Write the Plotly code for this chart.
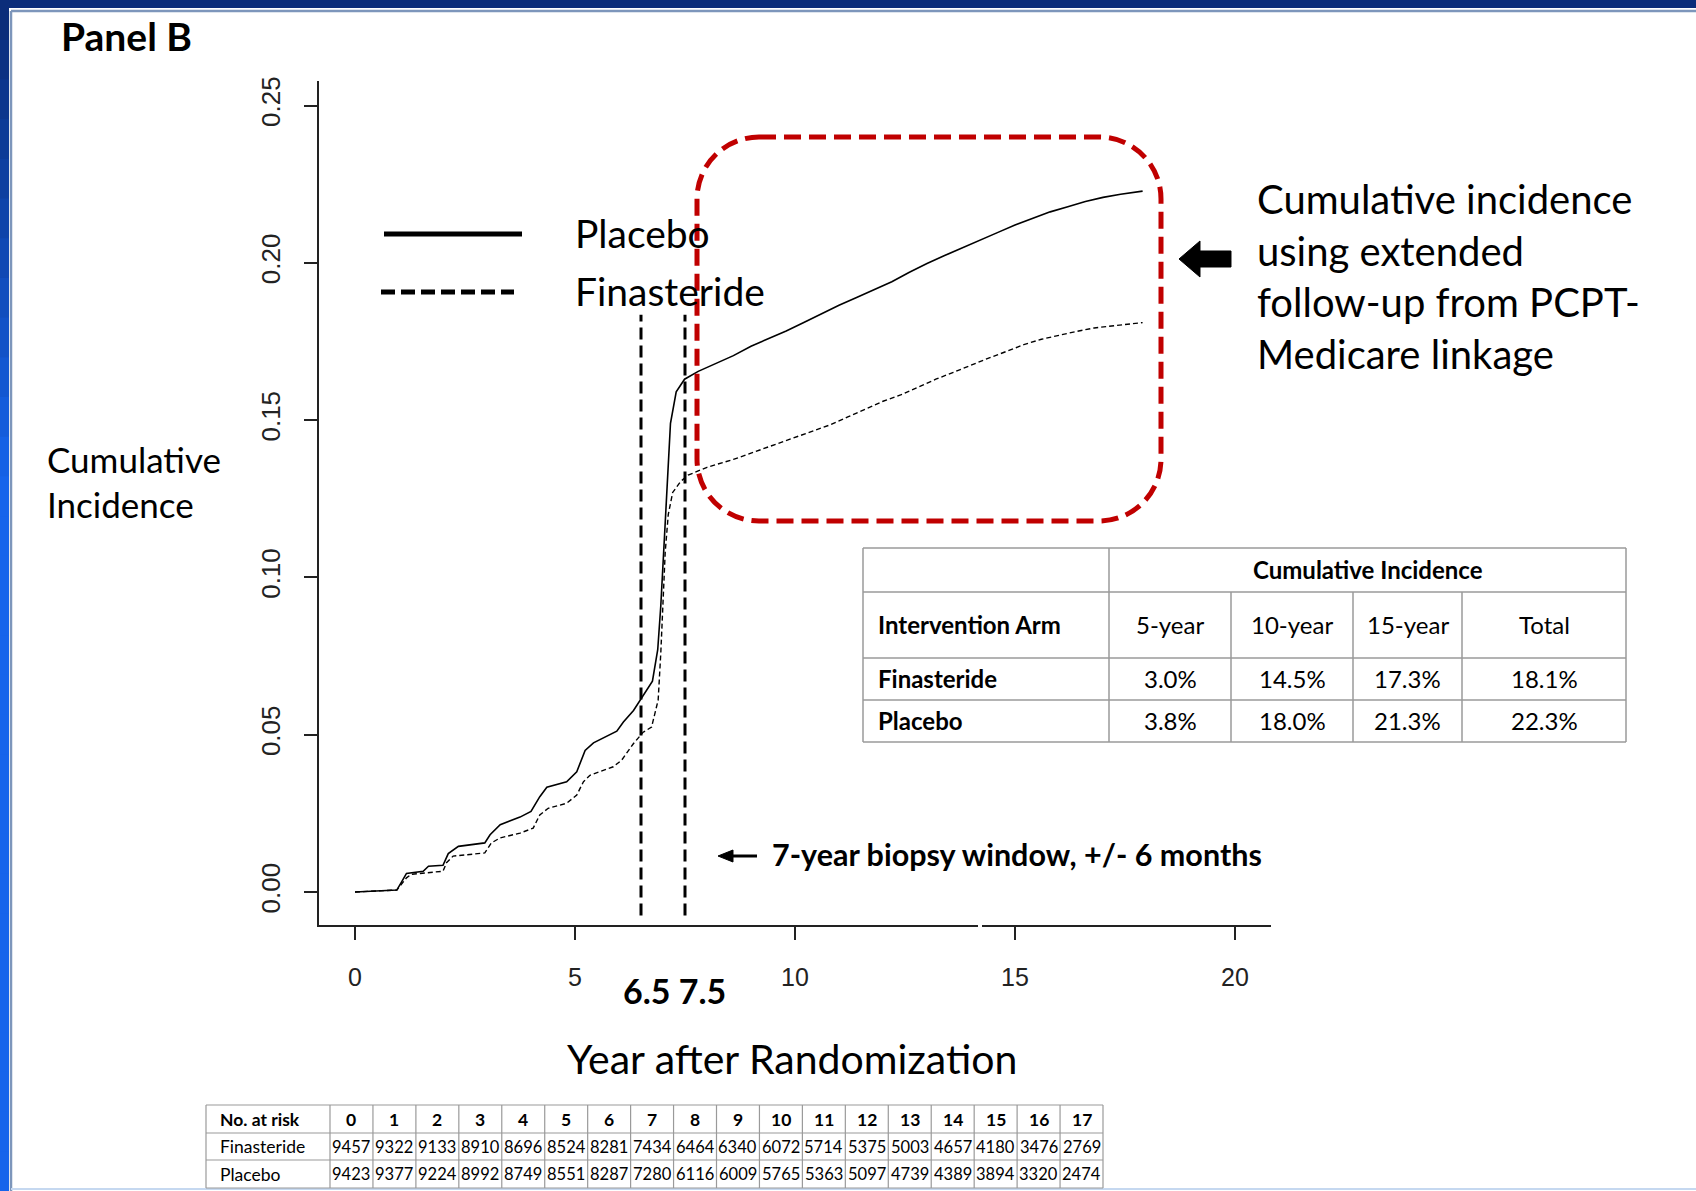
import plotly.graph_objects as go

# ---------------- data ----------------
years_placebo = [0, 0.95, 1.05, 1.17, 1.55, 1.67, 2.0, 2.12, 2.35, 2.95, 3.07, 3.3, 3.75, 4.0, 4.2, 4.36,
                 4.81, 5.04, 5.23, 5.42, 5.95, 6.1, 6.33, 6.48, 6.76, 6.88, 6.95, 7.03, 7.1, 7.17, 7.3,
                 7.49, 7.8, 8.2, 8.6, 9.0, 9.4, 9.8, 10.2, 10.6, 11.0, 11.4, 11.8, 12.2, 12.6, 13.0,
                 13.4, 13.8, 14.2, 14.6, 15.0, 15.4, 15.8, 16.2, 16.6, 17.0, 17.4, 17.9]
ci_placebo = [0, 0.0006, 0.003, 0.0059, 0.0066, 0.0082, 0.0085, 0.0122, 0.0145, 0.0156, 0.0182, 0.0214,
              0.0238, 0.0256, 0.0303, 0.0333, 0.035, 0.0382, 0.045, 0.0474, 0.0511, 0.054, 0.0577,
              0.0608, 0.067, 0.077, 0.091, 0.112, 0.132, 0.149, 0.159, 0.163, 0.1655, 0.168, 0.1705,
              0.1735, 0.1758, 0.1783, 0.181, 0.1838, 0.1865, 0.189, 0.1915, 0.194, 0.197, 0.1998,
              0.2023, 0.2048, 0.2072, 0.2096, 0.212, 0.2142, 0.2162, 0.2178, 0.2195, 0.2208, 0.2218,
              0.2228]

years_finasteride = [0, 0.95, 1.17, 1.28, 2.0, 2.08, 2.23, 2.95, 3.1, 3.3, 3.75, 4.05, 4.2, 4.39, 4.81,
                     5.04, 5.19, 5.34, 5.87, 6.06, 6.33, 6.55, 6.74, 6.89, 6.95, 7.0, 7.05, 7.12, 7.22,
                     7.4, 7.57, 8.0, 8.6, 9.0, 9.5, 10.0, 10.4, 10.8, 11.2, 11.6, 12.0, 12.4, 12.8, 13.2,
                     13.6, 14.0, 14.4, 14.8, 15.2, 15.6, 16.0, 16.4, 16.8, 17.2, 17.6, 17.9]
ci_finasteride = [0, 0.0006, 0.0045, 0.0056, 0.0066, 0.0093, 0.0114, 0.0124, 0.0156, 0.0172, 0.0187,
                  0.0203, 0.0245, 0.0266, 0.0282, 0.0308, 0.035, 0.0371, 0.0398, 0.0419, 0.0472, 0.0508,
                  0.0524, 0.061, 0.076, 0.092, 0.108, 0.12, 0.127, 0.1305, 0.1325, 0.135, 0.1375, 0.1395,
                  0.142, 0.1445, 0.1465, 0.1485, 0.151, 0.1535, 0.156, 0.158, 0.1605, 0.163, 0.1652,
                  0.1675, 0.1697, 0.1718, 0.174, 0.1757, 0.177, 0.1782, 0.1793, 0.18, 0.1806, 0.181]

window_bounds = [6.5, 7.5]
window_line_y = [-0.0075, 0.1835]
window_labels = "6.5 7.5"

x_ticks = [0, 5, 10, 15, 20]
y_ticks = [0.0, 0.05, 0.10, 0.15, 0.20, 0.25]
y_ticktext = ["0.00", "0.05", "0.10", "0.15", "0.20", "0.25"]

ci_table_header = ["5-year", "10-year", "15-year", "Total"]
ci_table_finasteride = ["3.0%", "14.5%", "17.3%", "18.1%"]
ci_table_placebo = ["3.8%", "18.0%", "21.3%", "22.3%"]

risk_years = ["0", "1", "2", "3", "4", "5", "6", "7", "8", "9", "10", "11", "12", "13", "14", "15", "16", "17"]
risk_finasteride = [9457, 9322, 9133, 8910, 8696, 8524, 8281, 7434, 6464, 6340, 6072, 5714, 5375, 5003,
                    4657, 4180, 3476, 2769]
risk_placebo = [9423, 9377, 9224, 8992, 8749, 8551, 8287, 7280, 6116, 6009, 5765, 5363, 5097, 4739,
                4389, 3894, 3320, 2474]

side_note = ["Cumulative incidence", "using extended", "follow-up from PCPT-", "Medicare linkage"]

# ---------------- geometry helpers ----------------
W, H = 1696, 1191
L, R, T, B = 319, 1271, 81, 925


def px(x):
    return (x - L) / (R - L)


def py(y):
    return (B - y) / (B - T)


SANS = "Lato, 'Open Sans', sans-serif"
ARIAL = "'Liberation Sans', Arial, sans-serif"

fig = go.Figure()

fig.add_trace(go.Scatter(x=years_placebo, y=ci_placebo, mode="lines",
                         line=dict(color="black", width=1.6), showlegend=False, hoverinfo="skip"))
fig.add_trace(go.Scatter(x=years_finasteride, y=ci_finasteride, mode="lines",
                         line=dict(color="black", width=1.4, dash="5px,3px"), showlegend=False,
                         hoverinfo="skip"))
for xb in window_bounds:
    fig.add_trace(go.Scatter(x=[xb, xb], y=window_line_y, mode="lines",
                             line=dict(color="black", width=3, dash="12px,6px"), showlegend=False,
                             hoverinfo="skip"))

shapes = []
annotations = []


def line(x0, y0, x1, y1, color="black", width=1, dash=None):
    d = dict(type="line", xref="paper", yref="paper", x0=px(x0), y0=py(y0), x1=px(x1), y1=py(y1),
             line=dict(color=color, width=width))
    if dash:
        d["line"]["dash"] = dash
    shapes.append(d)


def rect(x0, y0, x1, y1, fill):
    shapes.append(dict(type="rect", xref="paper", yref="paper", x0=px(x0), y0=py(y0), x1=px(x1),
                       y1=py(y1), fillcolor=fill, line=dict(width=0)))


def text(x, y, s, size, xanchor="left", bold=False, family=SANS, color="black"):
    if bold:
        s = "<b>" + s + "</b>"
    annotations.append(dict(xref="paper", yref="paper", x=px(x), y=py(y), text=s, showarrow=False,
                            xanchor=xanchor, yanchor="middle", font=dict(family=family, size=size,
                                                                          color=color)))


# ---------------- frame ----------------
rect(0, 0, W, 8, "#0b2d7a")
n = 30
for i in range(n):
    f = min(1.0, i / (n - 1) * 2.5)
    r_ = int(11 + (22 - 11) * f)
    g_ = int(45 + (100 - 45) * f)
    b_ = int(122 + (235 - 122) * f)
    rect(0, i * H / n, 9, (i + 1) * H / n + 1, f"rgb({r_},{g_},{b_})")
line(11, 11, W, 11, "#7d96bb", 2.5)
line(11, 11, 11, H, "#7d96bb", 2.5)
line(11, H - 2, W, H - 2, "#c5d8f0", 2)
# small gap in x axis line
rect(978, 918, 982, 932, "white")

# ---------------- legend ----------------
line(384, 234, 522, 234, "black", 5)
line(381, 292, 514, 292, "black", 5, "14px,6px")
text(573, 233, "Placebo", 39)
text(573, 291, "Finasteride", 39)

# ---------------- red rounded box ----------------
x0b, y0b, x1b, y1b, rr = 697, 137, 1161, 521, 62
k = 0.5523 * rr


def P(x, y):
    return f"{px(x):.5f},{py(y):.5f}"


path = (f"M {P(x0b + rr, y0b)} L {P(x1b - rr, y0b)} "
        f"C {P(x1b - rr + k, y0b)} {P(x1b, y0b + rr - k)} {P(x1b, y0b + rr)} "
        f"L {P(x1b, y1b - rr)} "
        f"C {P(x1b, y1b - rr + k)} {P(x1b - rr + k, y1b)} {P(x1b - rr, y1b)} "
        f"L {P(x0b + rr, y1b)} "
        f"C {P(x0b + rr - k, y1b)} {P(x0b, y1b - rr + k)} {P(x0b, y1b - rr)} "
        f"L {P(x0b, y0b + rr)} "
        f"C {P(x0b, y0b + rr - k)} {P(x0b + rr - k, y0b)} {P(x0b + rr, y0b)} Z")
shapes.append(dict(type="path", xref="paper", yref="paper", path=path,
                   line=dict(color="#c00000", width=5, dash="17px,8px")))

# block arrow
ap = (f"M {P(1179, 259)} L {P(1200, 241)} L {P(1200, 251)} L {P(1231, 251)} L {P(1231, 267)} "
      f"L {P(1200, 267)} L {P(1200, 277)} Z")
shapes.append(dict(type="path", xref="paper", yref="paper", path=ap, fillcolor="black",
                   line=dict(color="black", width=1)))

for i, s in enumerate(side_note):
    text(1255, [199, 251, 302, 354][i], s, 40)

# ---------------- biopsy window note ----------------
line(729, 856, 757, 856, "black", 3)
bp = f"M {P(718, 856)} L {P(733, 850)} L {P(733, 862)} Z"
shapes.append(dict(type="path", xref="paper", yref="paper", path=bp, fillcolor="black",
                   line=dict(color="black", width=1)))
text(770, 854, "7-year biopsy window, +/- 6 months", 30.5, bold=True)

text(674, 990, window_labels, 34, xanchor="center", bold=True)

# ---------------- labels ----------------
text(59, 36, "Panel B", 39, bold=True)
text(45, 459, "Cumulative", 35)
text(45, 504, "Incidence", 35)
text(792, 1058, "Year after Randomization", 41, xanchor="center")

# ---------------- cumulative incidence table ----------------
gc = "#9a9a9a"
cx = [863, 1109, 1231, 1353, 1462, 1626]
ry = [548, 592, 658, 700, 742]
for yy in ry:
    line(cx[0], yy, cx[-1], yy, gc, 1.5)
line(cx[0], ry[0], cx[0], ry[-1], gc, 1.5)
line(cx[-1], ry[0], cx[-1], ry[-1], gc, 1.5)
line(cx[1], ry[0], cx[1], ry[-1], gc, 1.5)
for c in cx[2:-1]:
    line(c, ry[1], c, ry[-1], gc, 1.5)
tf = 24
text((cx[1] + cx[-1]) / 2, (ry[0] + ry[1]) / 2 - 1, "Cumulative Incidence", tf, "center", True)
text(876, (ry[1] + ry[2]) / 2 - 1, "Intervention Arm", tf, bold=True)
text(876, (ry[2] + ry[3]) / 2 - 1, "Finasteride", tf, bold=True)
text(876, (ry[3] + ry[4]) / 2 - 1, "Placebo", tf, bold=True)
for j in range(4):
    xc = (cx[j + 1] + cx[j + 2]) / 2
    text(xc, (ry[1] + ry[2]) / 2 - 1, ci_table_header[j], tf, "center")
    text(xc, (ry[2] + ry[3]) / 2 - 1, ci_table_finasteride[j], tf, "center")
    text(xc, (ry[3] + ry[4]) / 2 - 1, ci_table_placebo[j], tf, "center")

# ---------------- number at risk table ----------------
tx0, tx_lab, tx1 = 206, 330, 1103
tr = [1105, 1133, 1160, 1188]
cw = (tx1 - tx_lab) / len(risk_years)
for yy in tr:
    line(tx0, yy, tx1, yy, gc, 1.2)
line(tx0, tr[0], tx0, tr[-1], gc, 1.2)
for i in range(len(risk_years) + 1):
    line(tx_lab + i * cw, tr[0], tx_lab + i * cw, tr[-1], gc, 1.2)
lf = 17.5
nf = 16.5
text(218, (tr[0] + tr[1]) / 2, "No. at risk", lf, bold=True)
text(218, (tr[1] + tr[2]) / 2, "Finasteride", lf)
text(218, (tr[2] + tr[3]) / 2, "Placebo", lf)
for i in range(len(risk_years)):
    xc = tx_lab + (i + 0.5) * cw
    text(xc, (tr[0] + tr[1]) / 2, risk_years[i], lf, "center", True)
    text(xc, (tr[1] + tr[2]) / 2, str(risk_finasteride[i]), nf, "center")
    text(xc, (tr[2] + tr[3]) / 2, str(risk_placebo[i]), nf, "center")

fig.update_layout(
    width=W, height=H,
    margin=dict(l=L, r=W - R, t=T, b=H - B, pad=0),
    paper_bgcolor="white", plot_bgcolor="white",
    shapes=shapes, annotations=annotations,
    xaxis=dict(range=[-0.818, 20.818], showgrid=False, zeroline=False, showline=True,
               linecolor="#222", linewidth=1.5, ticks="outside", ticklen=13, tickwidth=1.5,
               tickcolor="#222", tickvals=x_ticks, tickfont=dict(family=ARIAL, size=25, color="#222"),
               ticklabelstandoff=16),
    yaxis=dict(range=[-0.0105, 0.2578], showgrid=False, zeroline=False, showline=True,
               linecolor="#222", linewidth=1.5, ticks="outside", ticklen=13, tickwidth=1.5,
               tickcolor="#222", tickvals=y_ticks, ticktext=y_ticktext, tickangle=-90,
               tickfont=dict(family=ARIAL, size=26, color="#222"), ticklabelstandoff=14),
)

fig.write_html("out.html")
